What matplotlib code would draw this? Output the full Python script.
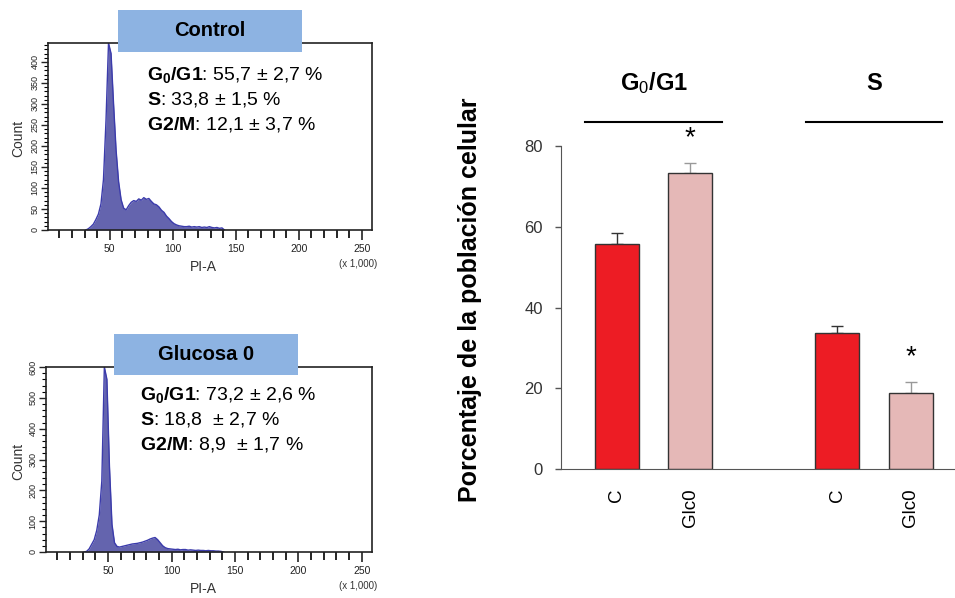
import numpy as np
import matplotlib
matplotlib.use('Agg')
import matplotlib.pyplot as plt
from matplotlib.patches import Rectangle
from matplotlib.ticker import MultipleLocator

plt.rcParams['font.family'] = ['Liberation Sans', 'DejaVu Sans']
plt.rcParams['mathtext.fontset'] = 'custom'
plt.rcParams['mathtext.rm'] = 'Liberation Sans'
plt.rcParams['mathtext.bf'] = 'Liberation Sans:bold'
plt.rcParams['mathtext.it'] = 'Liberation Sans:italic'

# histogramas (PI-A x 1000, centros de canal cada 2)
pi_a = np.arange(31, 143, 2)
count_control = [0, 3, 8, 14, 25, 38, 62, 120, 260, 445, 420, 300, 190, 115, 72, 52,
                 48, 58, 66, 70, 68, 74, 71, 77, 73, 75, 68, 62, 60, 55, 47, 42,
                 33, 27, 20, 15, 12, 10, 9, 8, 8, 9, 7, 8, 7, 8, 6, 7,
                 6, 8, 6, 5, 6, 4, 5, 0]
count_glc0 = [0, 2, 10, 25, 40, 70, 120, 230, 600, 560, 280, 90, 30, 18, 16, 18,
              20, 22, 24, 26, 27, 28, 30, 32, 35, 38, 42, 45, 47, 40, 30, 20,
              14, 11, 10, 9, 8, 9, 7, 8, 8, 6, 7, 6, 5, 6, 5, 5,
              4, 5, 4, 4, 3, 3, 2, 0]

hist_titles = ['Control', 'Glucosa 0']
hist_ymax = [445, 600]
hist_ystep = [50, 100]
hist_yminor = [10, 20]
stats_lines = [
    [r'$\mathbf{G_0/G1}$: 55,7 ± 2,7 %', r'$\mathbf{S}$: 33,8 ± 1,5 %', r'$\mathbf{G2/M}$: 12,1 ± 3,7 %'],
    [r'$\mathbf{G_0/G1}$: 73,2 ± 2,6 %', r'$\mathbf{S}$: 18,8  ± 2,7 %', r'$\mathbf{G2/M}$: 8,9  ± 1,7 %'],
]

# barras
groups = ['G$_0$/G1', 'S']
conditions = ['C', 'Glc0']
pct_control = [55.7, 33.8]
pct_glc0 = [73.2, 18.8]
err_control = [2.7, 1.5]
err_glc0 = [2.6, 2.7]

W, H = 955, 598
fig = plt.figure(figsize=(W / 100, H / 100), dpi=100)

def fx(px):
    return px / W

def fy(py):
    return 1 - py / H

hist_fill = '#6464ae'
hist_edge = '#3b3bab'
box_col = '#8db3e2'

# posiciones (px) de los histogramas
hist_boxes = [(48, 43, 372, 230), (46, 367, 372, 552)]
title_boxes = [(118, 10, 302, 52), (114, 334, 298, 375)]
text_pos = [(147, 75), (140, 395)]

for i, counts in enumerate([count_control, count_glc0]):
    x0, y0, x1, y1 = hist_boxes[i]
    ax = fig.add_axes([fx(x0), fy(y1), fx(x1) - fx(x0), fy(y0) - fy(y1)])
    ax.fill_between(pi_a, counts, color=hist_fill, lw=0)
    ax.plot(pi_a, counts, color=hist_edge, lw=1)
    ax.set_xlim(1, 258)
    ax.set_ylim(0, hist_ymax[i])
    ax.xaxis.set_major_locator(MultipleLocator(50))
    ax.xaxis.set_minor_locator(MultipleLocator(10))
    ax.yaxis.set_major_locator(MultipleLocator(hist_ystep[i]))
    ax.yaxis.set_minor_locator(MultipleLocator(hist_yminor[i]))
    ax.tick_params(axis='x', which='major', length=7, width=1.2, labelsize=7.5, pad=3, colors='#222')
    ax.tick_params(axis='x', which='minor', length=6, width=1.2)
    ax.tick_params(axis='y', which='major', length=5, width=1, labelsize=6.5, pad=1, colors='#222',
                   labelrotation=90)
    ax.tick_params(axis='y', which='minor', length=3, width=0.8)
    for lab in ax.get_yticklabels():
        lab.set_va('center')
    for sp in ax.spines.values():
        sp.set_linewidth(1.2)
        sp.set_color('#222')
    fig.text(fx(18), fy((y0 + y1) / 2 + 2), 'Count', rotation=90, ha='center', va='center',
             fontsize=10, color='#333')
    fig.text(fx(203), fy(y1 + 37), 'PI-A', ha='center', va='center', fontsize=10, color='#333')
    fig.text(fx(377), fy(y1 + 34), '(x 1,000)', ha='right', va='center', fontsize=7, color='#333')

    bx0, by0, bx1, by1 = title_boxes[i]
    fig.patches.append(Rectangle((fx(bx0), fy(by1)), fx(bx1) - fx(bx0), fy(by0) - fy(by1),
                                 transform=fig.transFigure, facecolor=box_col, edgecolor='none',
                                 zorder=5))
    fig.text(fx((bx0 + bx1) / 2), fy((by0 + by1) / 2), hist_titles[i], ha='center', va='center',
             fontsize=14.5, fontweight='bold', zorder=6)

    tx, ty = text_pos[i]
    for k, line in enumerate(stats_lines[i]):
        fig.text(fx(tx), fy(ty + k * 24.5), line, ha='left', va='center', fontsize=14, zorder=6)

# grafico de barras
axb = fig.add_axes([fx(561), fy(469), 1 - fx(561), fy(146) - fy(469)])
pos_c = np.array([0, 3])
pos_g = pos_c + 1
w = 0.6
axb.bar(pos_c, pct_control, w, color='#ed1c24', edgecolor='#333333', lw=1, zorder=2)
axb.bar(pos_g, pct_glc0, w, color='#e5b8b7', edgecolor='#333333', lw=1, zorder=2)
axb.errorbar(pos_c, pct_control, yerr=[np.zeros(2), err_control], fmt='none', ecolor='#333333',
             elinewidth=1, capsize=4, capthick=1, zorder=1)
axb.errorbar(pos_g, pct_glc0, yerr=[np.zeros(2), err_glc0], fmt='none', ecolor='#999999',
             elinewidth=1, capsize=4, capthick=1, zorder=1)
for p, v, e in zip(pos_g, pct_glc0, err_glc0):
    axb.text(p, v + e + 6.2, '*', ha='center', va='center', fontsize=20)

axb.set_xlim(-0.762, 4.605)
axb.set_ylim(0, 80)
axb.set_xticks(np.concatenate([pos_c, pos_g]))
axb.set_xticklabels(conditions[:1] * 2 + conditions[1:] * 2, rotation=90, fontsize=13.5, va='top')
axb.set_yticks([0, 20, 40, 60, 80])
axb.tick_params(axis='x', length=0, pad=14)
axb.tick_params(axis='y', length=4, width=1, color='#555', labelsize=12, labelcolor='#333', pad=9)
axb.spines['top'].set_visible(False)
axb.spines['right'].set_visible(False)
axb.spines['left'].set_color('#555')
axb.spines['bottom'].set_color('#555')

for gi, g in enumerate(groups):
    center = (pos_c[gi] + pos_g[gi]) / 2
    axb.plot([center - 0.93, center + 0.93], [86, 86], color='black', lw=1.5, clip_on=False)
    axb.text(center, 95.5, g, ha='center', va='center', fontsize=17, fontweight='bold',
             clip_on=False)

fig.text(fx(470), fy(300), 'Porcentaje de la población celular', rotation=90, ha='center',
         va='center', fontsize=18, fontweight='bold')

fig.savefig('out.png', dpi=100)
